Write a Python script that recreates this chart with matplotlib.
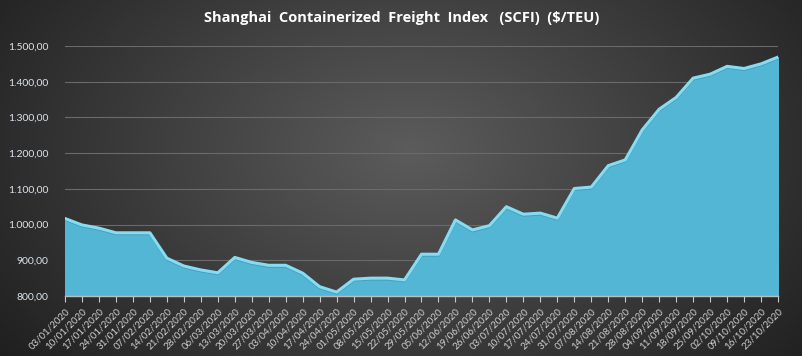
import numpy as np
import pandas as pd
import matplotlib
matplotlib.use('Agg')
import matplotlib.pyplot as plt
from matplotlib.ticker import FuncFormatter, FixedLocator

# dados semanais do SCFI
datas = pd.date_range('2020-01-03', periods=43, freq='7D')
rotulos = [d.strftime('%d/%m/%Y') for d in datas]
scfi = [1017, 999, 990, 977, 977, 977, 906, 884, 873, 865,
        908, 894, 886, 886, 864, 826, 811, 847, 850, 850,
        845, 917, 917, 1013, 985, 997, 1050, 1029, 1032, 1018,
        1101, 1105, 1165, 1181, 1265, 1323, 1356, 1410, 1421, 1443,
        1437, 1450, 1469]

plt.rcParams['font.family'] = ['Lato', 'DejaVu Sans']

fig = plt.figure(figsize=(8.03, 3.56), dpi=100)

# fundo com gradiente radial
bg = fig.add_axes([0, 0, 1, 1])
yy, xx = np.mgrid[0:356, 0:803]
r = np.sqrt(((xx - 410) / 500.0) ** 2 + ((yy - 150) / 330.0) ** 2)
g = np.clip(0.36 - 0.23 * r, 0.12, 0.36)
bg.imshow(np.dstack([g, g, g]), aspect='auto', extent=[0, 1, 0, 1])
bg.axis('off')

ax = fig.add_axes([65 / 803, 60 / 356, 713 / 803, 250 / 356])
ax.set_facecolor('none')
x = np.arange(len(scfi))

ax.fill_between(x, 800, scfi, color='#52b6d4', zorder=2)
ax.plot(x, np.array(scfi) - 3, color='#3d8fa8', lw=2, zorder=3, alpha=0.6)
ax.plot(x, scfi, color='#86dcf2', lw=2.2, zorder=4, solid_joinstyle='round')

ax.set_xlim(0, len(scfi) - 1)
ax.set_ylim(800, 1500)
ax.yaxis.set_major_locator(FixedLocator(range(800, 1501, 100)))
ax.yaxis.set_major_formatter(FuncFormatter(
    lambda v, p: '{:,.2f}'.format(v).replace(',', 'X').replace('.', ',').replace('X', '.')))
ax.grid(axis='y', color='#6a6a6a', lw=0.8, zorder=1)
ax.set_axisbelow(True)

ax.set_xticks(x)
ax.set_xticklabels(rotulos, rotation=45, ha='right', rotation_mode='anchor')
ax.tick_params(axis='x', colors='#c8c8c8', labelsize=7, length=4, width=0.8, direction='out')
ax.tick_params(axis='y', colors='#dce4ec', labelsize=7.5, length=0, pad=12)
for lab in ax.get_xticklabels():
    lab.set_color('#cfcfcf')

for s in ['top', 'right', 'left']:
    ax.spines[s].set_visible(False)
ax.spines['bottom'].set_color('#bdbdbd')
ax.spines['bottom'].set_linewidth(1)
ax.spines['bottom'].set_zorder(5)

fig.text(0.5, 1 - 18 / 356, 'Shanghai  Containerized  Freight  Index   (SCFI)  ($/TEU)',
         ha='center', va='center', color='white', fontsize=10.5, fontweight='bold',
         family=['Open Sans', 'DejaVu Sans'])

fig.savefig('out.png', dpi=100)
